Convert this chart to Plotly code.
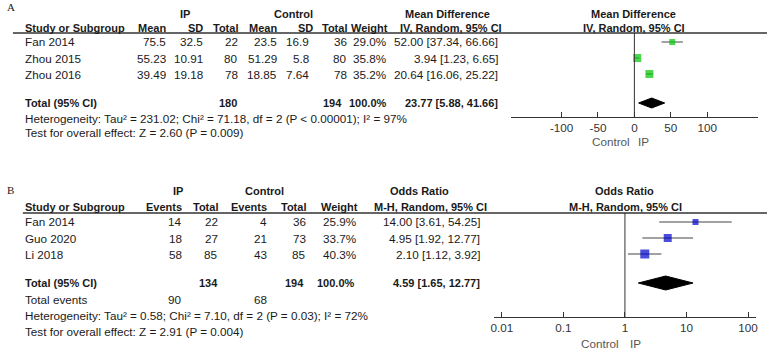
import plotly.graph_objects as go

W, H = 771, 349

# ---------------- Data: Panel A (Mean Difference) ----------------
A_studies = ["Fan 2014", "Zhou 2015", "Zhou 2016"]
A_ip_mean = [75.5, 55.23, 39.49]
A_ip_sd = [32.5, 10.91, 19.18]
A_ip_total = [22, 80, 78]
A_ct_mean = [23.5, 51.29, 18.85]
A_ct_sd = [16.9, 5.8, 7.64]
A_ct_total = [36, 80, 78]
A_weight = [29.0, 35.8, 35.2]
A_est = [52.00, 3.94, 20.64]
A_lo = [37.34, 1.23, 16.06]
A_hi = [66.66, 6.65, 25.22]
A_pooled = [23.77, 5.88, 41.66]
A_sum_total = [180, 194]
A_sum_weight = 100.0
A_het = "Heterogeneity: Tau² = 231.02; Chi² = 71.18, df = 2 (P < 0.00001); I² = 97%"
A_test = "Test for overall effect: Z = 2.60 (P = 0.009)"
A_ticks = [-100, -50, 0, 50, 100]
A_ticktext = ["-100", "-50", "0", "50", "100"]

# ---------------- Data: Panel B (Odds Ratio) ----------------
B_studies = ["Fan 2014", "Guo 2020", "Li 2018"]
B_ip_events = [14, 18, 58]
B_ip_total = [22, 27, 85]
B_ct_events = [4, 21, 43]
B_ct_total = [36, 73, 85]
B_weight = [25.9, 33.7, 40.3]
B_est = [14.00, 4.95, 2.10]
B_lo = [3.61, 1.92, 1.12]
B_hi = [54.25, 12.77, 3.92]
B_pooled = [4.59, 1.65, 12.77]
B_sum_total = [134, 194]
B_sum_weight = 100.0
B_sum_events = [90, 68]
B_het = "Heterogeneity: Tau² = 0.58; Chi² = 7.10, df = 2 (P = 0.03); I² = 72%"
B_test = "Test for overall effect: Z = 2.91 (P = 0.004)"
B_ticks = [0.01, 0.1, 1, 10, 100]
B_ticktext = ["0.01", "0.1", "1", "10", "100"]

# ---------------- Layout geometry (pixels) ----------------
FONT = "Liberation Sans, Arial, sans-serif"
TXT = "#1a1a1a"
REG = 11.7
BOLD = 11
A_rows = [42, 58, 74]
A_total_y = 103
B_rows = [222, 238, 254]
B_total_y = 283

A_sizes = [6, 8, 8]
B_sizes = [6, 8, 9]

anns = []


def ann(x, y, text, anchor="left", bold=False, size=None, color=TXT, family=FONT):
    if size is None:
        size = BOLD if bold else REG
    if bold:
        text = "<b>" + text + "</b>"
    anns.append(dict(x=x / W, y=1 - y / H, xref="paper", yref="paper", text=text,
                     xanchor=anchor, yanchor="middle", showarrow=False,
                     font=dict(family=family, size=size, color=color)))


def g(v):
    return f"{v:g}"


fig = go.Figure()

# ================= Panel A =================
ann(2, 7, "A", family="Liberation Serif, Times New Roman, serif", size=11)
ann(183, 14, "IP", "center", True)
ann(292, 14, "Control", "center", True)
ann(447, 14, "Mean Difference", "center", True)
ann(635, 14, "Mean Difference", "center", True)
ann(20, 28, "Study or Subgroup", "left", True)
ann(166, 28, "Mean", "right", True)
ann(203, 28, "SD", "right", True)
ann(239, 28, "Total", "right", True)
ann(278, 28, "Mean", "right", True)
ann(314, 28, "SD", "right", True)
ann(348, 28, "Total", "right", True)
ann(390, 28, "Weight", "right", True)
ann(451, 28, "IV, Random, 95% CI", "center", True)
ann(635, 28, "IV, Random, 95% CI", "center", True)

for i, s in enumerate(A_studies):
    y = A_rows[i]
    ann(20, y, s)
    ann(166, y, g(A_ip_mean[i]), "right")
    ann(203, y, g(A_ip_sd[i]), "right")
    ann(239, y, str(A_ip_total[i]), "right")
    ann(278, y, g(A_ct_mean[i]), "right")
    ann(310, y, g(A_ct_sd[i]), "right")
    ann(348, y, str(A_ct_total[i]), "right")
    ann(388, y, f"{A_weight[i]:.1f}%", "right")
    ann(500, y, f"{A_est[i]:.2f} [{A_lo[i]:.2f}, {A_hi[i]:.2f}]", "right")

ann(20, A_total_y, "Total (95% CI)", "left", True)
ann(238, A_total_y, str(A_sum_total[0]), "right", True)
ann(343, A_total_y, str(A_sum_total[1]), "right", True)
ann(389, A_total_y, f"{A_sum_weight:.1f}%", "right", True)
ann(500, A_total_y, f"{A_pooled[0]:.2f} [{A_pooled[1]:.2f}, {A_pooled[2]:.2f}]", "right", True)
ann(20, 118, A_het)
ann(20, 132, A_test)
ann(612, 141, "Control", "center", color="#555555")
ann(645, 141, "IP", "center", color="#555555")

fig.add_trace(go.Scatter(
    x=A_est, y=A_rows, mode="markers", xaxis="x", yaxis="y",
    marker=dict(symbol="square", size=A_sizes, color="#00c800", line=dict(width=0)),
    error_x=dict(type="data", symmetric=False,
                 array=[h - e for h, e in zip(A_hi, A_est)],
                 arrayminus=[e - l for e, l in zip(A_est, A_lo)],
                 color="#444444", thickness=1, width=0),
    showlegend=False, hoverinfo="skip"))

est, lo, hi = A_pooled
fig.add_trace(go.Scatter(
    x=[lo, est, hi, est, lo], y=[A_total_y, A_total_y - 5, A_total_y, A_total_y + 5, A_total_y],
    mode="lines", fill="toself", fillcolor="black", line=dict(color="black", width=1),
    xaxis="x", yaxis="y", showlegend=False, hoverinfo="skip"))

# ================= Panel B =================
ann(2, 190, "B", family="Liberation Serif, Times New Roman, serif", size=11)
ann(176, 191, "IP", "center", True)
ann(263, 191, "Control", "center", True)
ann(419, 191, "Odds Ratio", "center", True)
ann(626, 191, "Odds Ratio", "center", True)
ann(20, 207, "Study or Subgroup", "left", True)
ann(182, 207, "Events", "right", True)
ann(218, 207, "Total", "right", True)
ann(268, 207, "Events", "right", True)
ann(307, 207, "Total", "right", True)
ann(359, 207, "Weight", "right", True)
ann(430, 207, "M-H, Random, 95% CI", "center", True)
ann(627, 207, "M-H, Random, 95% CI", "center", True)

for i, s in enumerate(B_studies):
    y = B_rows[i]
    ann(20, y, s)
    ann(182, y, str(B_ip_events[i]), "right")
    ann(218, y, str(B_ip_total[i]), "right")
    ann(268, y, str(B_ct_events[i]), "right")
    ann(307, y, str(B_ct_total[i]), "right")
    ann(357, y, f"{B_weight[i]:.1f}%", "right")
    ann(482, y, f"{B_est[i]:.2f} [{B_lo[i]:.2f}, {B_hi[i]:.2f}]", "right")

ann(20, B_total_y, "Total (95% CI)", "left", True)
ann(218, B_total_y, str(B_sum_total[0]), "right", True)
ann(305, B_total_y, str(B_sum_total[1]), "right", True)
ann(356, B_total_y, f"{B_sum_weight:.1f}%", "right", True)
ann(482, B_total_y, f"{B_pooled[0]:.2f} [{B_pooled[1]:.2f}, {B_pooled[2]:.2f}]", "right", True)
ann(20, 299, "Total events")
ann(182, 299, str(B_sum_events[0]), "right")
ann(268, 299, str(B_sum_events[1]), "right")
ann(20, 315, B_het)
ann(20, 331, B_test)
ann(601, 343, "Control", "center", color="#555555")
ann(637, 343, "IP", "center", color="#555555")

fig.add_trace(go.Scatter(
    x=B_est, y=B_rows, mode="markers", xaxis="x2", yaxis="y2",
    marker=dict(symbol="square", size=B_sizes, color="#0000cc", line=dict(width=0)),
    error_x=dict(type="data", symmetric=False,
                 array=[h - e for h, e in zip(B_hi, B_est)],
                 arrayminus=[e - l for e, l in zip(B_est, B_lo)],
                 color="#444444", thickness=1, width=0),
    showlegend=False, hoverinfo="skip"))

est, lo, hi = B_pooled
fig.add_trace(go.Scatter(
    x=[lo, est, hi, est, lo], y=[B_total_y, B_total_y - 7, B_total_y, B_total_y + 7, B_total_y],
    mode="lines", fill="toself", fillcolor="black", line=dict(color="black", width=1),
    xaxis="x2", yaxis="y2", showlegend=False, hoverinfo="skip"))

# ---------------- Shapes: header rules and null lines ----------------
shapes = [
    dict(type="line", xref="paper", yref="paper", x0=10 / W, x1=769 / W,
         y0=1 - 33 / H, y1=1 - 33 / H, line=dict(color="#333333", width=1.5)),
    dict(type="line", xref="paper", yref="paper", x0=20 / W, x1=769 / W,
         y0=1 - 213 / H, y1=1 - 213 / H, line=dict(color="#333333", width=1.5)),
    dict(type="line", xref="x", yref="y", x0=0, x1=0, y0=33, y1=117,
         line=dict(color="#333333", width=1)),
    dict(type="line", xref="x2", yref="y2", x0=1, x1=1, y0=213, y1=317,
         line=dict(color="#333333", width=1)),
]

axis_common = dict(showgrid=False, zeroline=False, showline=True, linecolor="#333333",
                   linewidth=1, ticks="inside", ticklen=5, tickcolor="#333333",
                   tickfont=dict(family=FONT, size=REG, color="#333333"))

fig.update_layout(
    width=W, height=H, autosize=False,
    margin=dict(l=0, r=0, t=0, b=0),
    paper_bgcolor="white", plot_bgcolor="white",
    xaxis=dict(domain=[511 / W, 760 / W], range=[-170, 170], tickvals=A_ticks,
               ticktext=A_ticktext, anchor="y", **axis_common),
    yaxis=dict(domain=[1 - 117 / H, 1 - 33 / H], range=[117, 33], visible=False),
    xaxis2=dict(domain=[494 / W, 758 / W], type="log", range=[-2.13, 2.13],
                tickvals=B_ticks, ticktext=B_ticktext, anchor="y2", **axis_common),
    yaxis2=dict(domain=[1 - 317 / H, 1 - 213 / H], range=[317, 213], visible=False),
    annotations=anns,
    shapes=shapes,
)

fig.write_html("out.html")
